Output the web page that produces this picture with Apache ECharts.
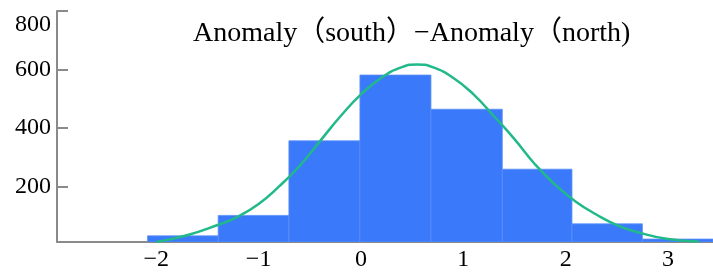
<!DOCTYPE html>
<html>
<head>
<meta charset="utf-8">
<script src="https://cdn.jsdelivr.net/npm/echarts@6/dist/echarts.min.js"></script>
<style>
html,body{margin:0;padding:0;background:#fff;}
#chart{width:713px;height:272px;}
</style>
</head>
<body>
<div id="chart"></div>
<script>
// Histogram bins (edges) and counts
const binEdges = [-2.085, -1.395, -0.704, -0.010, 0.684, 1.381, 2.062, 2.750, 3.44];
const binCounts = [31, 101, 356, 581, 464, 259, 72, 20];
// Fitted curve, points
const curveX = [-2.0, -1.7, -1.4, -1.2, -1.0, -0.8, -0.6, -0.4, -0.2, 0.0, 0.2, 0.4, 0.55, 0.7, 0.9, 1.1, 1.3, 1.5, 1.7, 1.9, 2.1, 2.3, 2.5, 2.7, 3.0, 3.3];
const curveY = [10, 33, 68, 97, 140, 200, 270, 355, 440, 515, 572, 608, 617, 608, 572, 515, 440, 362, 276, 205, 148, 104, 68, 44, 20, 12];
// Tick labels
const xTicks = [-2, -1, 0, 1, 2, 3];
const yTicks = [200, 400, 600, 800];
const titleText = 'Anomaly（south）−Anomaly（north)';

const Y_MIN = 10, Y_MAX = 800;
const serif = '"Liberation Serif", "Noto Sans CJK SC", serif';

const binData = binCounts.map((c, i) => [binEdges[i], binEdges[i + 1], c]);
const curveData = curveX.map((x, i) => [x, curveY[i]]);

const chart = echarts.init(document.getElementById('chart'), null, {renderer: 'canvas'});
chart.setOption({
  animation: false,
  backgroundColor: '#fff',
  title: {
    text: titleText,
    left: 193,
    top: 20,
    padding: 0,
    textStyle: {fontFamily: serif, fontSize: 28, fontWeight: 'normal', color: '#000'}
  },
  grid: {left: 57, right: 0, top: 11, bottom: 24, containLabel: false},
  xAxis: {
    type: 'value',
    min: -2.97,
    max: 3.44,
    axisLine: {show: true, onZero: false, lineStyle: {color: '#8a8a8a', width: 2}},
    axisTick: {show: true, inside: true, length: 3, customValues: xTicks, lineStyle: {color: '#333', width: 1.5}},
    axisLabel: {
      customValues: xTicks,
      margin: 6,
      fontFamily: serif,
      fontSize: 24,
      color: '#000',
      formatter: v => (v < 0 ? '−' + Math.abs(v) : String(v))
    },
    splitLine: {show: false}
  },
  yAxis: {
    type: 'value',
    min: Y_MIN,
    max: Y_MAX,
    axisLine: {show: true, onZero: false, lineStyle: {color: '#8a8a8a', width: 2}},
    axisTick: {show: true, inside: true, length: 11, customValues: yTicks, lineStyle: {color: '#8a8a8a', width: 2}},
    axisLabel: {
      customValues: yTicks,
      margin: 6,
      fontFamily: serif,
      fontSize: 24,
      color: '#000',
      formatter: v => (v === 800 ? '{t|800}' : String(v)),
      rich: {t: {fontFamily: serif, fontSize: 24, color: '#000', padding: [28, 0, 0, 0]}}
    },
    splitLine: {show: false}
  },
  series: [
    {
      type: 'custom',
      data: binData,
      encode: {x: [0, 1], y: 2},
      clip: true,
      z: 1,
      renderItem: function (params, api) {
        const p0 = api.coord([api.value(0), api.value(2)]);
        const p1 = api.coord([api.value(1), Y_MIN]);
        return {
          type: 'rect',
          shape: {x: p0[0], y: p0[1], width: p1[0] - p0[0], height: p1[1] - p0[1]},
          style: {fill: '#3a79fa', stroke: '#5b8ff7', lineWidth: 0.8}
        };
      }
    },
    {
      type: 'line',
      data: curveData,
      smooth: true,
      showSymbol: false,
      z: 3,
      lineStyle: {color: '#22b98a', width: 2.5}
    }
  ]
});
</script>
</body>
</html>
